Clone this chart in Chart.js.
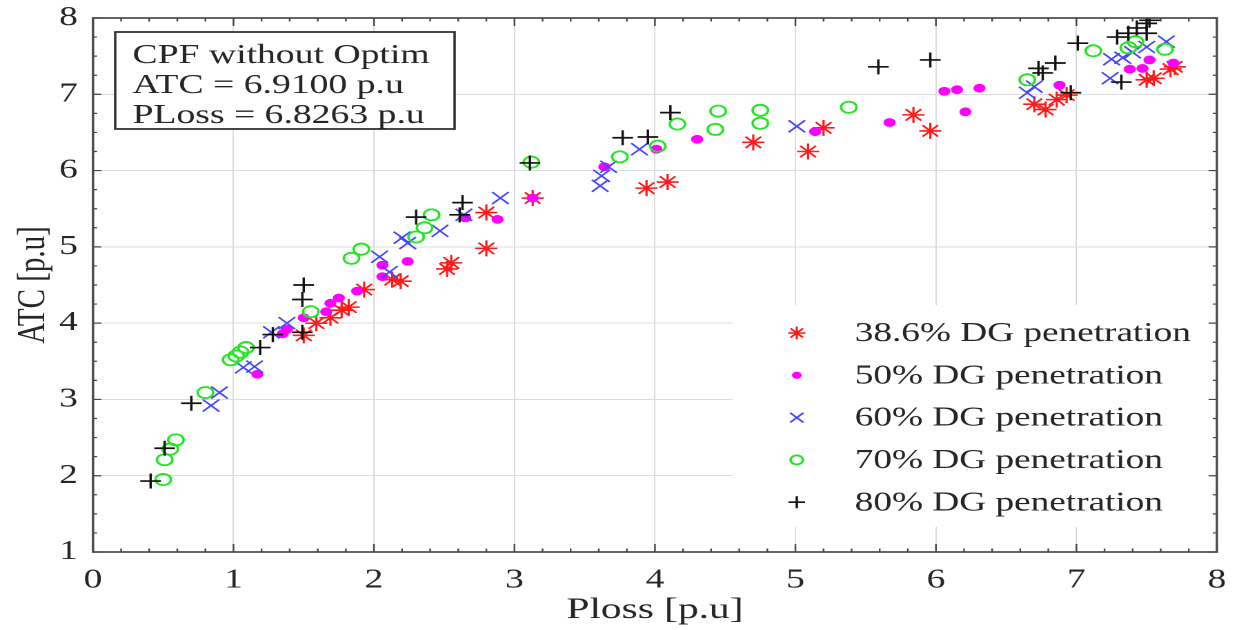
<!DOCTYPE html>
<html><head><meta charset="utf-8">
<script src="https://cdn.jsdelivr.net/npm/chart.js@4.4.1/dist/chart.umd.min.js"></script>
<style>
html,body{margin:0;padding:0;background:#fff;overflow:hidden;}
#wrap{width:898px;height:630px;transform:scaleX(1.3797);transform-origin:0 0;}
</style></head><body>
<div id="wrap"><canvas id="c" width="898" height="630"></canvas></div>
<script>
// ---- data ----
const seriesLabels = ['38.6% DG penetration','50% DG penetration','60% DG penetration','70% DG penetration','80% DG penetration'];
const xTicks = [0,1,2,3,4,5,6,7,8];
const yTicks = [1,2,3,4,5,6,7,8];
const annotationLines = ['CPF without Optim','ATC = 6.9100 p.u','PLoss = 6.8263 p.u'];

const ploss386 = [1.50,1.59,1.69,1.77,1.82,1.93,2.13,2.19,2.52,2.55,2.80,2.80,3.13,3.94,4.09,4.70,5.09,5.20,5.84,5.96,6.70,6.78,6.86,6.93,7.50,7.55,7.67,7.70];
const atc386   = [3.84,4.00,4.07,4.17,4.21,4.44,4.57,4.55,4.71,4.79,4.98,5.45,5.64,5.77,5.85,6.37,6.25,6.56,6.73,6.52,6.87,6.80,6.93,6.99,7.19,7.21,7.33,7.36];

const ploss50 = [1.17,1.35,1.38,1.50,1.66,1.69,1.75,1.88,2.06,2.06,2.24,2.65,2.88,3.13,3.64,4.01,4.30,5.14,5.67,6.06,6.15,6.21,6.31,6.88,7.38,7.47,7.52,7.69];
const atc50   = [3.33,3.86,3.92,4.07,4.15,4.26,4.33,4.42,4.76,4.61,4.81,5.38,5.36,5.64,6.05,6.28,6.41,6.51,6.63,7.04,7.06,6.77,7.08,7.12,7.33,7.34,7.45,7.41];

const ploss60 = [0.84,0.90,1.07,1.15,1.27,1.38,2.04,2.11,2.20,2.24,2.47,2.64,2.90,3.61,3.62,3.67,3.89,5.01,6.65,6.70,7.24,7.25,7.33,7.40,7.50,7.64];
const atc60   = [2.92,3.09,3.42,3.43,3.88,4.00,4.87,4.67,5.12,5.05,5.21,5.42,5.64,5.80,5.93,6.05,6.28,6.58,7.02,7.10,7.21,7.46,7.48,7.55,7.62,7.69];

const ploss70 = [0.50,0.51,0.55,0.59,0.80,0.98,1.02,1.05,1.09,1.55,1.84,1.91,2.30,2.36,2.41,3.12,3.75,4.02,4.16,4.43,4.45,4.75,4.75,5.38,6.65,7.12,7.37,7.42,7.63];
const atc70   = [1.95,2.21,2.35,2.47,3.09,3.52,3.57,3.62,3.68,4.15,4.85,4.97,5.13,5.25,5.42,6.11,6.18,6.32,6.61,6.54,6.78,6.62,6.79,6.83,7.19,7.57,7.61,7.69,7.59];

const ploss80 = [0.41,0.51,0.70,1.19,1.28,1.49,1.49,1.50,2.30,2.61,2.63,3.11,3.77,3.95,4.11,5.59,5.96,6.73,6.76,6.85,6.96,7.01,7.29,7.32,7.37,7.43,7.50,7.50,7.52];
const atc80   = [1.93,2.36,2.95,3.68,3.85,3.88,4.31,4.50,5.39,5.42,5.58,6.10,6.43,6.44,6.76,7.36,7.45,7.34,7.28,7.41,7.02,7.67,7.75,7.16,7.80,7.87,7.80,7.93,7.97];

const toPts = (xs, ys) => xs.map((v, i) => ({x: v, y: ys[i]}));

const SERIF = "'Liberation Serif','Times New Roman',serif";
const TXT = '#262626';

const datasets = [
  {label: seriesLabels[0], data: toPts(ploss386, atc386), pointStyle: 'star', pointRadius: 8, borderColor: '#ff1a1a', backgroundColor: 'rgba(0,0,0,0)', borderWidth: 1.6, order: 5},
  {label: seriesLabels[1], data: toPts(ploss50, atc50), pointStyle: 'circle', pointRadius: 4.4, borderColor: '#ff00ff', backgroundColor: '#ff00ff', borderWidth: 0, order: 4},
  {label: seriesLabels[2], data: toPts(ploss60, atc60), pointStyle: 'crossRot', pointRadius: 8.5, borderColor: '#4646ff', backgroundColor: 'rgba(0,0,0,0)', borderWidth: 1.5, order: 3},
  {label: seriesLabels[3], data: toPts(ploss70, atc70), pointStyle: 'circle', pointRadius: 5.6, borderColor: '#22e622', backgroundColor: 'rgba(0,0,0,0)', borderWidth: 1.8, order: 2},
  {label: seriesLabels[4], data: toPts(ploss80, atc80), pointStyle: 'cross', pointRadius: 7.5, borderColor: '#111111', backgroundColor: 'rgba(0,0,0,0)', borderWidth: 1.7, order: 1}
];

function drawMarker(ctx, ds, x, y, scale) {
  const r = ds.pointRadius * scale;
  ctx.save();
  ctx.strokeStyle = ds.borderColor; ctx.fillStyle = ds.backgroundColor; ctx.lineWidth = ds.borderWidth;
  ctx.beginPath();
  const d = r * Math.SQRT1_2;
  if (ds.pointStyle === 'circle') {
    ctx.arc(x, y, r, 0, Math.PI * 2);
    if (ds.borderWidth > 0) { ctx.fill(); ctx.stroke(); } else ctx.fill();
  } else {
    if (ds.pointStyle === 'cross' || ds.pointStyle === 'star') { ctx.moveTo(x - r, y); ctx.lineTo(x + r, y); ctx.moveTo(x, y - r); ctx.lineTo(x, y + r); }
    if (ds.pointStyle === 'crossRot' || ds.pointStyle === 'star') { ctx.moveTo(x - d, y - d); ctx.lineTo(x + d, y + d); ctx.moveTo(x + d, y - d); ctx.lineTo(x - d, y + d); }
    ctx.stroke();
  }
  ctx.restore();
}

const decor = {
  id: 'decor',
  afterDatasetsDraw(chart) {
    const ctx = chart.ctx;
    // annotation box
    ctx.save();
    ctx.fillStyle = '#fff';
    ctx.fillRect(83.5, 32, 246, 97);
    ctx.strokeStyle = '#333'; ctx.lineWidth = 1.8;
    ctx.strokeRect(83.5, 32, 246, 97);
    ctx.fillStyle = TXT; ctx.font = '27.3px ' + SERIF; ctx.textBaseline = 'alphabetic'; ctx.textAlign = 'left';
    annotationLines.forEach((t, i) => ctx.fillText(t, 96, 63 + i * 30));
    // legend
    ctx.fillStyle = '#fff';
    ctx.fillRect(531, 305, 351, 222);
    ctx.font = '27px ' + SERIF; ctx.textBaseline = 'middle';
    chart.data.datasets.forEach((ds, i) => {
      const yy = 333 + i * 42.3;
      drawMarker(ctx, ds, 577.5, yy, 0.8);
      ctx.fillStyle = TXT;
      ctx.fillText(ds.label, 619.5, yy + 1);
    });
    ctx.restore();
  },
  afterDraw(chart) {
    const {ctx, chartArea: a, scales: {x, y}} = chart;
    ctx.save();
    ctx.strokeStyle = '#444'; ctx.lineWidth = 1.2;
    ctx.beginPath();
    for (let k = 0; k <= 40; k++) {
      const v = k * 0.2, px = x.getPixelForValue(v), len = (k % 5 === 0) ? 8 : 3.5;
      ctx.moveTo(px, a.bottom); ctx.lineTo(px, a.bottom - len);
      ctx.moveTo(px, a.top); ctx.lineTo(px, a.top + len);
    }
    for (let k = 0; k <= 28; k++) {
      const v = 1 + k * 0.25, py = y.getPixelForValue(v), len = (k % 4 === 0) ? 6 : 3;
      ctx.moveTo(a.left, py); ctx.lineTo(a.left + len, py);
      ctx.moveTo(a.right, py); ctx.lineTo(a.right - len, py);
    }
    ctx.stroke();
    ctx.strokeStyle = '#4a4a4a'; ctx.lineWidth = 1.7;
    ctx.strokeRect(a.left, a.top, a.right - a.left, a.bottom - a.top);
    ctx.restore();
  }
};

new Chart(document.getElementById('c'), {
  type: 'scatter',
  data: {datasets},
  options: {
    responsive: false,
    animation: false,
    devicePixelRatio: 2,
    events: [],
    layout: {padding: {top: 18, right: 16, left: 0, bottom: 0}},
    plugins: {legend: {display: false}, tooltip: {enabled: false}},
    scales: {
      x: {
        type: 'linear', min: 0, max: 8,
        afterBuildTicks: s => { s.ticks = xTicks.map(v => ({value: v})); },
        afterFit: s => { s.height = 78; s.paddingLeft = 0; s.paddingRight = 0; s.paddingTop = 0; s.paddingBottom = 0; },
        ticks: {font: {family: SERIF, size: 27}, color: TXT, padding: 12, maxRotation: 0},
        grid: {color: '#dcdcdc', lineWidth: 1, drawTicks: false},
        border: {display: false},
        title: {display: true, text: 'Ploss [p.u]', font: {family: SERIF, size: 30}, color: TXT, padding: {top: 0, bottom: 2}}
      },
      y: {
        type: 'linear', min: 1, max: 8,
        afterBuildTicks: s => { s.ticks = yTicks.map(v => ({value: v})); },
        afterFit: s => { s.width = 67.4; s.paddingTop = 0; s.paddingBottom = 0; s.paddingLeft = 0; s.paddingRight = 0; },
        ticks: {font: {family: SERIF, size: 27}, color: TXT, padding: 11},
        grid: {color: '#dcdcdc', lineWidth: 1, drawTicks: false},
        border: {display: false},
        title: {display: true, text: 'ATC [p.u]', font: {family: SERIF, size: 29}, color: TXT, padding: {top: 7, bottom: 0}}
      }
    }
  },
  plugins: [decor]
});
</script>
</body></html>
